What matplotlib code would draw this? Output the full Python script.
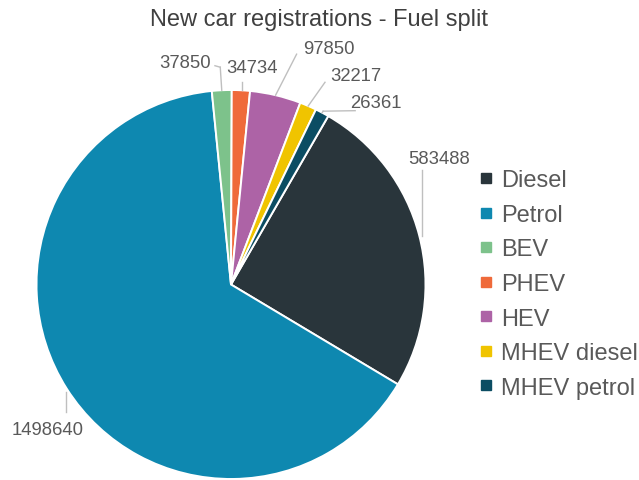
import matplotlib
matplotlib.use("Agg")
import matplotlib.pyplot as plt
import numpy as np
from matplotlib.lines import Line2D
from matplotlib.transforms import offset_copy

categories = ["Diesel", "Petrol", "BEV", "PHEV", "HEV", "MHEV diesel", "MHEV petrol"]
values = [583488, 1498640, 37850, 34734, 97850, 32217, 26361]
colors = ["#29353b", "#0e88b0", "#7dc28b", "#ef6a3a", "#ad63a6", "#f0c400", "#0b4d63"]

# label placement: text offset (px, image y-down) from slice edge midpoint, leader polyline offsets
label_offsets = [(19.7, -77.6), (-19.3, 41.3), (-36.8, -27.7), (10.8, -22.3),
                 (53.6, -46.2), (48.0, -30.5), (53.8, -9.7)]
leader_paths = [[(2.4, 0), (2.4, -66)],
                [(-1, 3.3), (-1, 23)],
                [(0, 0), (-1.5, -23), (-6.8, -24.5)],
                [(0.8, 0), (0.8, -8.6)],
                [(0, 0), (21, -41)],
                [(0, 0), (16.8, -23.7)],
                [(0, 0), (1, -1.5), (33, -2)]]

plt.rcParams['font.family'] = ['Liberation Sans', 'DejaVu Sans']
W, H = 639, 481
fig = plt.figure(figsize=(W / 100, H / 100), dpi=100)
cx, cy, r = 231, 481 - 285.5, 194.5
ax = fig.add_axes([(cx - r) / W, (cy - r) / H, 2 * r / W, 2 * r / H])
wedges, _ = ax.pie(values, colors=colors, startangle=60, counterclock=False, radius=1,
                   wedgeprops=dict(edgecolor="white", linewidth=1.4))
ax.set_xlim(-1, 1)
ax.set_ylim(-1, 1)
ax.set_aspect('auto')
ax.axis('off')

textc = "#595959"
for w, v, (tx, ty), path in zip(wedges, values, label_offsets, leader_paths):
    mid = np.deg2rad((w.theta1 + w.theta2) / 2)
    ex, ey = np.cos(mid), np.sin(mid)
    trT = offset_copy(ax.transData, fig=fig, x=tx, y=-ty, units='dots')
    ax.text(ex, ey, str(v), transform=trT, ha='center', va='center',
            fontsize=13.3, color=textc, clip_on=False)
    for i in range(len(path) - 1):
        (x0, y0), (x1, y1) = path[i], path[i + 1]
        t0 = offset_copy(ax.transData, fig=fig, x=x0, y=-y0, units='dots')
        t1 = offset_copy(ax.transData, fig=fig, x=x1, y=-y1, units='dots')
        p0 = t0.transform((ex, ey))
        p1 = t1.transform((ex, ey))
        fig.add_artist(Line2D([p0[0], p1[0]], [p0[1], p1[1]], transform=None,
                              color="#bfbfbf", linewidth=1.0))

fig.text(319 / W, 1 - 20 / H, "New car registrations - Fuel split", ha='center', va='center',
         fontsize=17, color="#404040")

handles = [Line2D([], [], marker='s', linestyle='none', markersize=7.2, color=c) for c in colors]
leg = fig.legend(handles, categories, loc='center left', bbox_to_anchor=(479 / W, 1 - 285 / H),
                 frameon=False, fontsize=17, labelcolor=textc, handlelength=0.6,
                 handletextpad=0.35, labelspacing=0.53, borderpad=0, borderaxespad=0)

fig.savefig("out.png", dpi=100)
